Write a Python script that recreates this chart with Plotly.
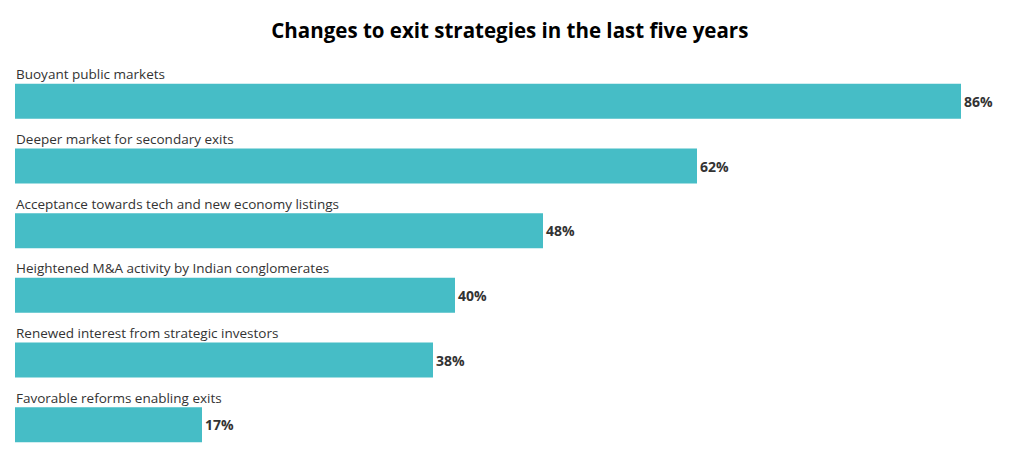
import plotly.graph_objects as go

categories = [
    "Buoyant public markets",
    "Deeper market for secondary exits",
    "Acceptance towards tech and new economy listings",
    "Heightened M&A activity by Indian conglomerates",
    "Renewed interest from strategic investors",
    "Favorable reforms enabling exits",
]
values = [86, 62, 48, 40, 38, 17]
value_labels = ["86%", "62%", "48%", "40%", "38%", "17%"]

positions = list(range(len(categories)))

fig = go.Figure()
fig.add_trace(go.Bar(
    x=values,
    y=positions,
    orientation="h",
    marker=dict(color="#46BDC6", line=dict(width=0)),
    text=value_labels,
    textposition="outside",
    textfont=dict(family="Open Sans", size=14, color="#333333", weight="bold"),
    cliponaxis=False,
    hoverinfo="skip",
))

for p, c in zip(positions, categories):
    fig.add_annotation(
        x=0, y=p, xref="x", yref="y",
        text=c, showarrow=False,
        xanchor="left", yanchor="bottom",
        yshift=16, xshift=-1,
        font=dict(family="Open Sans", size=13.5, color="#333333"),
    )

fig.update_layout(
    width=1020, height=463,
    margin=dict(l=7, r=23, t=61, b=14),
    paper_bgcolor="white", plot_bgcolor="white",
    bargap=0.46,
    showlegend=False,
    title=dict(
        text="<b>Changes to exit strategies in the last five years</b>",
        x=0.492, xanchor="center", y=0.95, yanchor="middle",
        font=dict(family="Open Sans", size=20.5, color="#000000"),
    ),
    uniformtext=dict(minsize=8, mode="show"),
)
fig.update_xaxes(range=[0, 90], visible=False, fixedrange=True)
fig.update_yaxes(range=[5.5, -0.5], visible=False, fixedrange=True)

fig.write_html("out.html")
